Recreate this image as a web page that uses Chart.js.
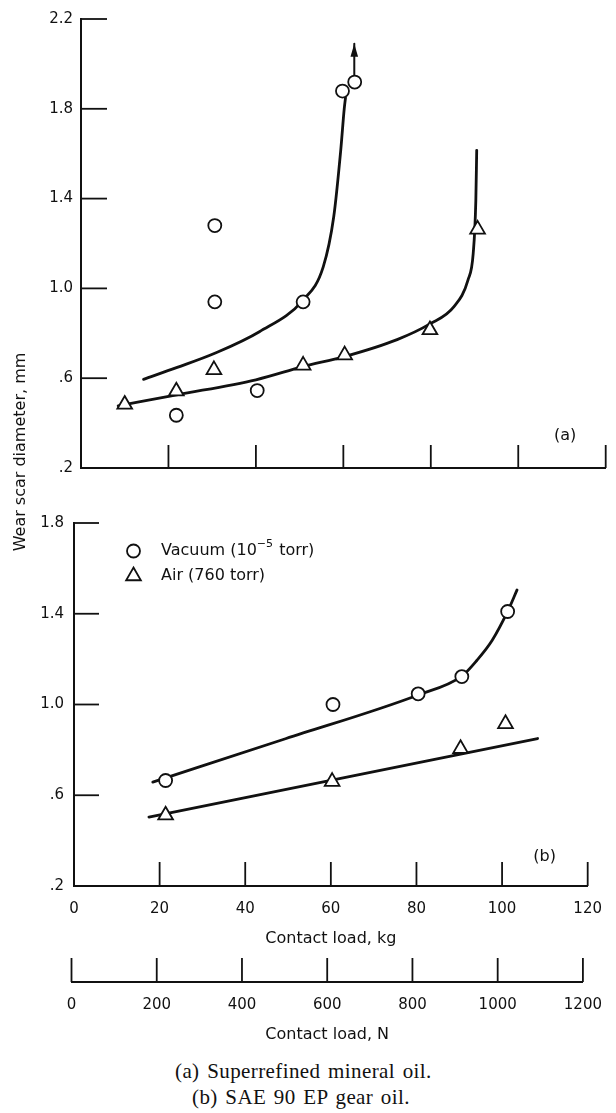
<!DOCTYPE html>
<html lang="en">
<head>
<meta charset="utf-8">
<title>Wear scar diameter vs contact load</title>
<script src="https://cdn.jsdelivr.net/npm/chart.js@4.4.1/dist/chart.umd.min.js"></script>
<style>
  html, body { margin: 0; padding: 0; background: #fff; }
  body { position: relative; width: 616px; height: 1113px; overflow: hidden; color: #111; }
  canvas { position: absolute; left: 0; display: block; }
  #yTitle {
    position: absolute; left: -130px; top: 442px; width: 300px; height: 20px;
    line-height: 20px; text-align: center; white-space: nowrap;
    font: 16px "DejaVu Sans", sans-serif;
    transform: rotate(-90deg); transform-origin: 150px 10px;
  }
  .caption {
    position: absolute; white-space: nowrap; line-height: 26px;
    font: 21px "Liberation Serif", "Times New Roman", serif;
    letter-spacing: 0.4px; word-spacing: 2px;
  }
</style>
</head>
<body>
<canvas id="panelA" width="616" height="490" style="top:0"></canvas>
<canvas id="panelB" width="616" height="470" style="top:490px"></canvas>
<canvas id="axisN" width="616" height="105" style="top:945px"></canvas>
<div id="yTitle">Wear scar diameter, mm</div>
<div class="caption" style="left:175px;top:1059px">(a) Superrefined mineral oil.</div>
<div class="caption" style="left:192px;top:1085px">(b) SAE 90 EP gear oil.</div>

<script>
// ---- axis ticks ----
const kgTicks = [0, 20, 40, 60, 80, 100, 120];
const kgTickLabels = ['0', '20', '40', '60', '80', '100', '120'];
const newtonTicks = [0, 200, 400, 600, 800, 1000, 1200];
const newtonTickLabels = ['0', '200', '400', '600', '800', '1000', '1200'];
const wearTicksA = [0.2, 0.6, 1.0, 1.4, 1.8, 2.2];
const wearTickLabelsA = ['.2', '.6', '1.0', '1.4', '1.8', '2.2'];
const wearTicksB = [0.2, 0.6, 1.0, 1.4, 1.8];
const wearTickLabelsB = ['.2', '.6', '1.0', '1.4', '1.8'];

// ---- (a) superrefined mineral oil: measurements ----
const aVacuumLoad = [21.8, 30.6, 30.6, 40.3, 50.8, 59.8, 62.6];
const aVacuumWear = [0.435, 1.28, 0.94, 0.545, 0.94, 1.879, 1.919];
const aAirLoad = [10.0, 21.8, 30.4, 50.8, 60.3, 79.8, 90.7];
const aAirWear = [0.483, 0.542, 0.637, 0.657, 0.703, 0.815, 1.263];

// (a) faired curves
const aVacuumCurveLoad = [14.3, 22.0, 30.6, 40.8, 50.8, 55.4, 57.8, 59.4, 60.2, 60.5];
const aVacuumCurveWear = [0.595, 0.648, 0.711, 0.807, 0.948, 1.096, 1.319, 1.615, 1.80, 1.85];
const aAirCurveLoad = [8.5, 21.9, 40.0, 50.8, 60.2, 72.3, 79.8, 85.3, 88.5, 89.7, 90.3, 90.5];
const aAirCurveWear = [0.477, 0.526, 0.593, 0.652, 0.696, 0.772, 0.842, 0.919, 1.037, 1.156, 1.393, 1.615];

// (a) off-scale marker above the last vacuum point
const aArrowLoad = [62.5, 62.5];
const aArrowWear = [1.95, 2.09];

// ---- (b) SAE 90 EP gear oil: measurements ----
const bVacuumLoad = [21.4, 60.5, 80.4, 90.6, 101.3];
const bVacuumWear = [0.665, 1.0, 1.047, 1.123, 1.41];
const bAirLoad = [21.4, 60.3, 90.3, 100.8];
const bAirWear = [0.512, 0.66, 0.805, 0.915];

// (b) faired curves
const bVacuumCurveLoad = [18.4, 49.4, 80.4, 90.6, 94.1, 97.7, 101.3, 103.5];
const bVacuumCurveWear = [0.658, 0.849, 1.042, 1.125, 1.194, 1.283, 1.41, 1.505];
const bAirCurveLoad = [17.5, 108.3];
const bAirCurveWear = [0.504, 0.85];

// ---- text ----
const seriesKeyText = [['Vacuum (10', '\u22125', ' torr)'], ['Air (760 torr)']];
const kgTitle = 'Contact load, kg';
const newtonTitle = 'Contact load, N';

const INK = '#111';
const FONT = "'DejaVu Sans', sans-serif";

const pts = (xs, ys) => xs.map((x, i) => ({ x, y: ys[i] }));

// Tick marks drawn inside the plot, pointing away from the axis line
const inwardTicks = {
  id: 'inwardTicks',
  afterDraw(chart, args, opts) {
    const ctx = chart.ctx;
    ctx.save();
    ctx.strokeStyle = INK;
    ctx.lineWidth = opts.width || 1.8;
    (opts.axes || []).forEach(a => {
      const s = chart.scales[a.id];
      s.ticks.forEach(t => {
        const p = s.getPixelForValue(t.value);
        ctx.beginPath();
        if (s.isHorizontal()) { ctx.moveTo(p, s.top); ctx.lineTo(p, s.top - a.len); }
        else { ctx.moveTo(s.right, p); ctx.lineTo(s.right + a.len, p); }
        ctx.stroke();
      });
    });
    ctx.restore();
  }
};

// Arrowhead at the end of a dataset's line
const arrowHead = {
  id: 'arrowHead',
  afterDatasetsDraw(chart, args, opts) {
    if (opts.dataset === undefined) return;
    const meta = chart.getDatasetMeta(opts.dataset);
    const el = meta.data[meta.data.length - 1];
    if (!el) return;
    const ctx = chart.ctx;
    ctx.save();
    ctx.fillStyle = INK;
    ctx.beginPath();
    ctx.moveTo(el.x, el.y);
    ctx.lineTo(el.x - opts.halfWidth, el.y + opts.length);
    ctx.lineTo(el.x + opts.halfWidth, el.y + opts.length);
    ctx.closePath();
    ctx.fill();
    ctx.restore();
  }
};

// Panel tag such as "(a)"
const panelTag = {
  id: 'panelTag',
  afterDraw(chart, args, opts) {
    if (!opts.text) return;
    const { ctx, chartArea } = chart;
    ctx.save();
    ctx.fillStyle = INK;
    ctx.font = '16px ' + FONT;
    ctx.textAlign = 'center';
    ctx.textBaseline = 'middle';
    ctx.fillText(opts.text, chartArea.right + opts.dx, chartArea.bottom + opts.dy);
    ctx.restore();
  }
};

function drawMarker(ctx, ds, x, y) {
  ctx.strokeStyle = ds.pointBorderColor;
  ctx.fillStyle = ds.pointBackgroundColor;
  ctx.lineWidth = ds.pointBorderWidth;
  const o = { pointStyle: ds.pointStyle, radius: ds.pointRadius, borderWidth: ds.pointBorderWidth, rotation: 0 };
  if (Chart.helpers && Chart.helpers.drawPoint) {
    Chart.helpers.drawPoint(ctx, o, x, y);
    return;
  }
  ctx.beginPath();
  if (ds.pointStyle === 'triangle') {
    const r = ds.pointRadius;
    ctx.moveTo(x, y - r);
    ctx.lineTo(x + r * 0.866, y + r / 2);
    ctx.lineTo(x - r * 0.866, y + r / 2);
    ctx.closePath();
  } else {
    ctx.arc(x, y, ds.pointRadius, 0, Math.PI * 2);
  }
  ctx.fill();
  ctx.stroke();
}

// Key for the two environments
const seriesKey = {
  id: 'seriesKey',
  afterDatasetsDraw(chart, args, opts) {
    if (!opts.items) return;
    const { ctx, chartArea } = chart;
    opts.items.forEach((dsIndex, k) => {
      const ds = chart.data.datasets[dsIndex];
      const x = chartArea.left + opts.dx;
      const y = chartArea.top + opts.dy + k * opts.rowGap;
      ctx.save();
      drawMarker(ctx, ds, x, y);
      ctx.fillStyle = INK;
      ctx.textBaseline = 'middle';
      ctx.textAlign = 'left';
      let tx = chartArea.left + opts.textDx;
      seriesKeyText[k].forEach((part, j) => {
        const sup = j === 1;
        ctx.font = (sup ? '11px ' : '16px ') + FONT;
        ctx.fillText(part, tx, sup ? y - 7 : y);
        tx += ctx.measureText(part).width + (sup ? 1 : 0);
      });
      ctx.restore();
    });
  }
};

Chart.register(inwardTicks, arrowHead, panelTag, seriesKey);

const circleStyle = {
  pointStyle: 'circle', pointRadius: 6.5, pointBorderWidth: 1.8,
  pointBackgroundColor: '#fff', pointBorderColor: INK, showLine: false, order: 0
};
const triangleStyle = {
  pointStyle: 'triangle', pointRadius: 8.5, pointBorderWidth: 1.8,
  pointBackgroundColor: '#fff', pointBorderColor: INK, showLine: false, order: 0
};
const curveStyle = {
  showLine: true, pointRadius: 0, borderColor: INK, borderWidth: 2.8,
  borderCapStyle: 'round', cubicInterpolationMode: 'monotone', order: 1
};

function wearAxis(ticks, labels, width, padding) {
  return {
    type: 'linear', min: ticks[0], max: ticks[ticks.length - 1],
    afterBuildTicks: s => { s.ticks = ticks.map(v => ({ value: v })); },
    ticks: { color: INK, font: { family: FONT, size: 15 }, padding, callback: (v, i) => labels[i] },
    grid: { display: false, drawTicks: false },
    border: { display: true, color: INK, width: 2 },
    afterFit: s => { s.width = width; }
  };
}

function loadAxis(ticks, labels, height, showLabels, title) {
  return {
    type: 'linear', min: ticks[0], max: ticks[ticks.length - 1],
    afterBuildTicks: s => { s.ticks = ticks.map(v => ({ value: v })); },
    ticks: {
      display: showLabels, color: INK, font: { family: FONT, size: 15 }, padding: 14,
      maxRotation: 0, autoSkip: false, callback: (v, i) => labels[i]
    },
    title: title ? {
      display: true, text: title.text, color: INK,
      font: { family: FONT, size: 16 }, padding: { top: 0, bottom: title.pad }
    } : { display: false },
    grid: { display: false, drawTicks: false },
    border: { display: true, color: INK, width: 2 },
    afterFit: s => { s.height = height; }
  };
}

const common = {
  responsive: false, maintainAspectRatio: false, animation: false,
  devicePixelRatio: 1, events: []
};

// Panel (a)
new Chart(document.getElementById('panelA'), {
  type: 'scatter',
  data: {
    datasets: [
      { label: 'Vacuum', data: pts(aVacuumLoad, aVacuumWear), ...circleStyle },
      { label: 'Air', data: pts(aAirLoad, aAirWear), ...triangleStyle },
      { label: 'Vacuum fit', data: pts(aVacuumCurveLoad, aVacuumCurveWear), ...curveStyle },
      { label: 'Air fit', data: pts(aAirCurveLoad, aAirCurveWear), ...curveStyle },
      { label: 'Off scale', data: pts(aArrowLoad, aArrowWear), ...curveStyle, borderWidth: 2, cubicInterpolationMode: 'default', tension: 0 }
    ]
  },
  options: {
    ...common,
    layout: { padding: { left: 0, right: 10, top: 19, bottom: 22 } },
    scales: {
      x: loadAxis(kgTicks, kgTickLabels, 0, false, null),
      y: wearAxis(wearTicksA, wearTickLabelsA, 81, 8)
    },
    plugins: {
      legend: { display: false }, tooltip: { enabled: false },
      inwardTicks: { axes: [{ id: 'x', len: 23 }, { id: 'y', len: 26 }], width: 1.8 },
      arrowHead: { dataset: 4, halfWidth: 3.8, length: 13 },
      panelTag: { text: '(a)', dx: -40.5, dy: -32.5 }
    }
  }
});

// Panel (b)
new Chart(document.getElementById('panelB'), {
  type: 'scatter',
  data: {
    datasets: [
      { label: 'Vacuum (10\u207b\u2075 torr)', data: pts(bVacuumLoad, bVacuumWear), ...circleStyle },
      { label: 'Air (760 torr)', data: pts(bAirLoad, bAirWear), ...triangleStyle },
      { label: 'Vacuum fit', data: pts(bVacuumCurveLoad, bVacuumCurveWear), ...curveStyle },
      { label: 'Air fit', data: pts(bAirCurveLoad, bAirCurveWear), ...curveStyle }
    ]
  },
  options: {
    ...common,
    layout: { padding: { left: 0, right: 19, top: 33, bottom: 0 } },
    scales: {
      x: loadAxis(kgTicks, kgTickLabels, 74, true, { text: kgTitle, pad: 12 }),
      y: wearAxis(wearTicksB, wearTickLabelsB, 74, 10)
    },
    plugins: {
      legend: { display: false }, tooltip: { enabled: false },
      inwardTicks: { axes: [{ id: 'x', len: 24 }, { id: 'y', len: 25 }], width: 1.8 },
      panelTag: { text: '(b)', dx: -43, dy: -29.5 },
      seriesKey: { items: [0, 1], dx: 59.5, dy: 28, rowGap: 25, textDx: 87 }
    }
  }
});

// Secondary load scale in newtons
new Chart(document.getElementById('axisN'), {
  type: 'scatter',
  data: { datasets: [] },
  options: {
    ...common,
    layout: { padding: { left: 71.5, right: 20, top: 5, bottom: 0 } },
    scales: {
      x: loadAxis(newtonTicks, newtonTickLabels, 68, true, { text: newtonTitle, pad: 5.4 }),
      y: { display: false, min: 0, max: 1 }
    },
    plugins: {
      legend: { display: false }, tooltip: { enabled: false },
      inwardTicks: { axes: [{ id: 'x', len: 24 }], width: 1.8 }
    }
  }
});
</script>
</body>
</html>
